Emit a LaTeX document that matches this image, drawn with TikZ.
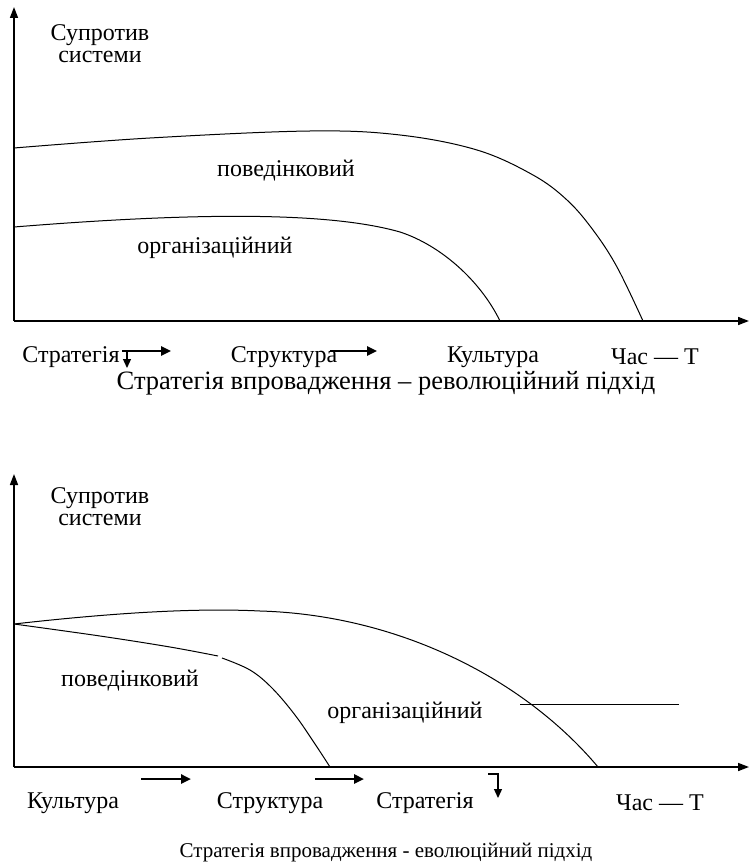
\documentclass[tikz,border=0pt]{standalone}
\usepackage{fontspec}
\setmainfont{Liberation Serif}
\usetikzlibrary{arrows.meta}
\begin{document}
\begin{tikzpicture}[x=1pt,y=-1pt,
  axis/.style={line width=1.6pt,-{Triangle[length=11pt,width=8pt]}},
  curve/.style={line width=1pt},
  flow/.style={line width=2.4pt,-{Triangle[length=10pt,width=9pt]}},
  drop/.style={line width=1.3pt,-{Triangle[length=9pt,width=8pt]}},
  lbl/.style={font=\fontsize{24}{26}\selectfont,inner sep=0pt},
  ttl/.style={font=\fontsize{26.5}{29}\selectfont,inner sep=0pt},
  ttlb/.style={font=\fontsize{21}{24}\selectfont,inner sep=0pt}]
\useasboundingbox (0,0) rectangle (749,866);
% ---------- top chart ----------
\coordinate (o1) at (14,321);
\coordinate (y1) at (14,7);
\coordinate (x1) at (749,321);
\draw[axis] (o1) -- (y1);
\draw[axis] (o1) -- (x1);
\node[lbl] (s1a) at (100,35) {Супротив};
\node[lbl] (s1b) at (100,57) {системи};
\draw[curve] plot[smooth,tension=0.6] coordinates {(14,148) (150,138) (310,131) (400,135) (477,150) (533,175) (567,200) (593,230) (617,267) (643,321)};
\draw[curve] (14,227) .. controls (200,212) and (330,212) .. (400,232) .. controls (440,245) and (480,280) .. (500,321);
\node[lbl] (b1) at (286,171) {поведінковий};
\node[lbl] (g1) at (215,248) {організаційний};
\node[lbl] (t1a) at (71,357) {Стратегія};
\node[lbl] (t1b) at (284,357) {Структура};
\node[lbl] (t1c) at (493,357) {Культура};
\node[lbl] (t1d) at (655,357) {Час — Т};
\coordinate (a1s) at (122,351);
\coordinate (a1e) at (171,351);
\coordinate (a1d) at (127,368);
\coordinate (a1c) at (127,351);
\draw[flow] (a1s) -- (a1e);
\draw[drop] (a1c) -- (a1d);
\coordinate (a2s) at (330,351);
\coordinate (a2e) at (377,351);
\draw[flow] (a2s) -- (a2e);
\node[ttl] (tt1) at (386,383) {Стратегія впровадження – революційний підхід};
% ---------- bottom chart ----------
\coordinate (o2) at (14,767);
\coordinate (y2) at (14,474);
\coordinate (x2) at (749,767);
\draw[axis] (o2) -- (y2);
\draw[axis] (o2) -- (x2);
\node[lbl] (s2a) at (100,498) {Супротив};
\node[lbl] (s2b) at (100,520) {системи};
\draw[curve] (14,624) .. controls (120,612) and (200,608) .. (260,611) .. controls (400,615) and (525,680) .. (598,767);
\draw[curve] plot[smooth,tension=0.6] coordinates {(14,624) (100,636) (170,647) (218,656)};
\draw[curve] plot[smooth,tension=0.6] coordinates {(222,658) (250,670) (272,688) (295,715) (315,744) (330,767)};
\coordinate (h1) at (520,704);
\coordinate (h2) at (679,704);
\draw[line width=0.9pt] (h1) -- (h2);
\node[lbl] (b2) at (130,681) {поведінковий};
\node[lbl] (g2) at (405,713) {організаційний};
\node[lbl] (t2a) at (73,803) {Культура};
\node[lbl] (t2b) at (270,803) {Структура};
\node[lbl] (t2c) at (425,803) {Стратегія};
\node[lbl] (t2d) at (660,803) {Час — Т};
\coordinate (a3s) at (141,779);
\coordinate (a3e) at (191,779);
\draw[flow] (a3s) -- (a3e);
\coordinate (a4s) at (315,779);
\coordinate (a4e) at (364,779);
\draw[flow] (a4s) -- (a4e);
\coordinate (a5s) at (488,774);
\coordinate (a5c) at (498,774);
\coordinate (a5e) at (498,798);
\draw[drop] (a5s) -- (a5c) -- (a5e);
\node[ttlb] (tt2) at (386,853) {Стратегія впровадження - еволюційний підхід};
\end{tikzpicture}
\end{document}
